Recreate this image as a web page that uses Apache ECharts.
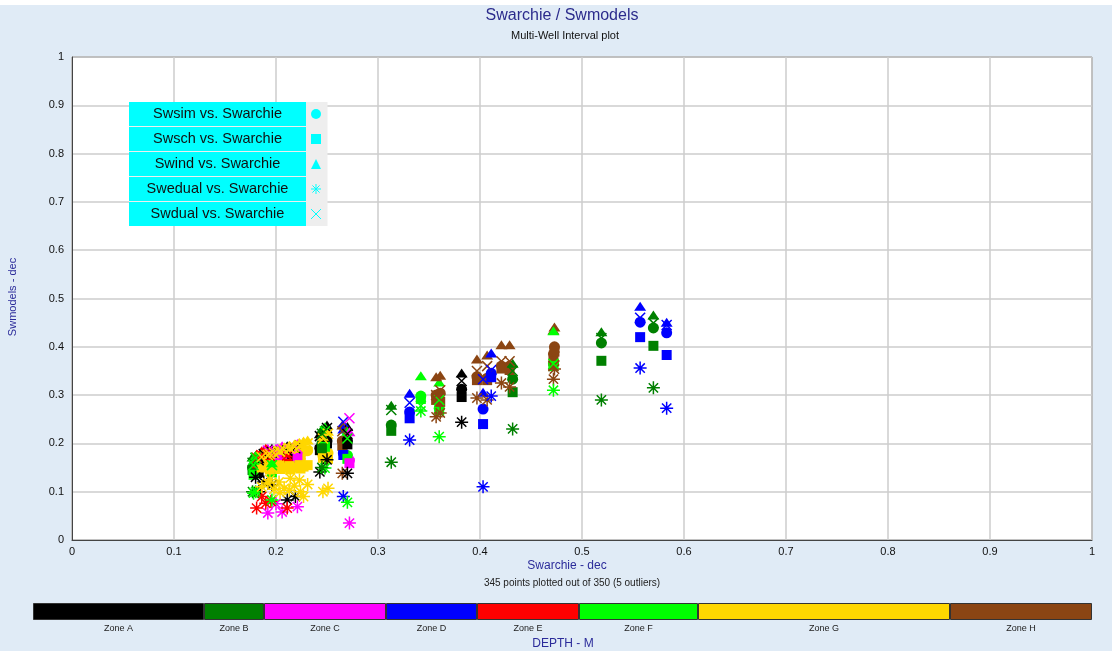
<!DOCTYPE html>
<html>
<head>
<meta charset="utf-8" />
<title>Swarchie / Swmodels</title>
<script src="https://cdn.jsdelivr.net/npm/echarts@6/dist/echarts.min.js"></script>
<style>
  html, body { margin: 0; padding: 0; background: #e0ebf6; }
  #chart { width: 1112px; height: 651px; }
</style>
</head>
<body>
<div id="chart"></div>
<script>
// zones (depth intervals) and their colours
var zoneNames = ['Zone A', 'Zone B', 'Zone C', 'Zone D', 'Zone E', 'Zone F', 'Zone G', 'Zone H'];
var zoneColors = ['#000000', '#008000', '#ff00ff', '#0000ff', '#ff0000', '#00ff00', '#ffd700', '#8b4513'];
var zoneSpan = [171, 60, 122, 91, 102, 119, 252, 142];

// one entry per depth sample: Swarchie (x), zone index, and the five model values
var swarchie = [
  0.313, 0.331, 0.342, 0.360, 0.357, 0.361, 0.382, 0.397, 0.403, 0.407, 0.411,
  0.421, 0.429, 0.432, 0.473, 0.472, 0.472, 0.519, 0.557, 0.570, 0.583,
  0.265, 0.270, 0.266, 0.270, 0.272,
  0.243, 0.250, 0.248, 0.246, 0.251, 0.245,
  0.180, 0.183, 0.188, 0.196, 0.211, 0.219, 0.177,
  0.192, 0.206, 0.221, 0.200,
  0.181, 0.186, 0.190, 0.211, 0.195,
  0.178, 0.180, 0.196,
  0.186, 0.192, 0.198, 0.203, 0.208, 0.213, 0.218, 0.223, 0.227, 0.231,
  0.194, 0.204, 0.214, 0.224
];
var zone = [
  1, 3, 5, 5, 7, 7, 0, 7, 3, 7, 3,
  7, 7, 1, 7, 7, 5, 1, 3, 1, 3,
  7, 0, 3, 5, 2,
  0, 0, 5, 6, 6, 1,
  0, 0, 0, 0, 0, 0, 1,
  2, 2, 2, 2,
  4, 4, 4, 4, 4,
  5, 5, 5,
  6, 6, 6, 6, 6, 6, 6, 6, 6, 6,
  6, 6, 6, 6
];
var swsim = [
  0.238, 0.265, 0.298, 0.273, 0.300, 0.304, 0.312, 0.338, 0.271, 0.335, 0.345,
  0.360, 0.360, 0.333, 0.400, 0.385, 0.365, 0.408, 0.451, 0.439, 0.429,
  0.205, 0.205, 0.180, 0.175, 0.165,
  0.190, 0.205, 0.198, 0.175, 0.180, 0.200,
  0.152, 0.145, 0.162, 0.168, 0.170, 0.172, 0.150,
  0.170, 0.172, 0.175, 0.165,
  0.162, 0.168, 0.172, 0.160, 0.155,
  0.140, 0.168, 0.145,
  0.165, 0.170, 0.172, 0.175, 0.176, 0.178, 0.180, 0.182, 0.183, 0.185,
  0.160, 0.163, 0.165, 0.168
];
var swsch = [
  0.226, 0.252, 0.292, 0.268, 0.290, 0.286, 0.296, 0.331, 0.240, 0.331, 0.337,
  0.355, 0.352, 0.306, 0.390, 0.370, 0.360, 0.371, 0.420, 0.402, 0.383,
  0.195, 0.198, 0.176, 0.168, 0.159,
  0.186, 0.200, 0.193, 0.170, 0.168, 0.190,
  0.148, 0.140, 0.158, 0.165, 0.165, 0.168, 0.145,
  0.165, 0.168, 0.170, 0.160,
  0.159, 0.165, 0.170, 0.158, 0.150,
  0.135, 0.165, 0.140,
  0.150, 0.155, 0.152, 0.155, 0.150, 0.153, 0.150, 0.155, 0.152, 0.155,
  0.146, 0.147, 0.146, 0.148
];
var swind = [
  0.279, 0.304, 0.340, 0.327, 0.338, 0.341, 0.346, 0.375, 0.306, 0.383, 0.387,
  0.404, 0.404, 0.366, 0.441, 0.435, 0.433, 0.431, 0.484, 0.466, 0.451,
  0.238, 0.235, 0.230, 0.225, 0.224,
  0.220, 0.238, 0.234, 0.215, 0.225, 0.230,
  0.175, 0.168, 0.185, 0.190, 0.195, 0.198, 0.172,
  0.190, 0.195, 0.200, 0.190,
  0.178, 0.185, 0.190, 0.180, 0.182,
  0.165, 0.175, 0.160,
  0.178, 0.182, 0.186, 0.190, 0.193, 0.196, 0.199, 0.202, 0.205, 0.207,
  0.180, 0.186, 0.192, 0.198
];
var swedual = [
  0.161, 0.207, 0.267, 0.214, 0.255, 0.263, 0.244, 0.294, 0.110, 0.290, 0.298,
  0.325, 0.317, 0.230, 0.354, 0.333, 0.310, 0.290, 0.356, 0.315, 0.273,
  0.138, 0.138, 0.090, 0.078, 0.035,
  0.141, 0.166, 0.149, 0.100, 0.107, 0.150,
  0.130, 0.100, 0.120, 0.114, 0.083, 0.090, 0.100,
  0.056, 0.058, 0.069, 0.075,
  0.066, 0.090, 0.076, 0.066, 0.080,
  0.097, 0.100, 0.083,
  0.110, 0.118, 0.105, 0.120, 0.107, 0.103, 0.112, 0.124, 0.090, 0.115,
  0.125, 0.098, 0.128, 0.100
];
var swdual = [
  0.269, 0.284, 0.278, 0.290, 0.300, 0.310, 0.329, 0.350, 0.333, 0.360, 0.352,
  0.370, 0.370, 0.350, 0.380, 0.360, 0.365, 0.418, 0.460, 0.449, 0.445,
  0.225, 0.220, 0.245, 0.210, 0.252,
  0.215, 0.232, 0.225, 0.210, 0.220, 0.220,
  0.170, 0.165, 0.178, 0.182, 0.185, 0.190, 0.160,
  0.185, 0.188, 0.190, 0.180,
  0.170, 0.175, 0.180, 0.175, 0.172,
  0.155, 0.170, 0.155,
  0.172, 0.176, 0.180, 0.184, 0.187, 0.190, 0.193, 0.196, 0.199, 0.200,
  0.178, 0.183, 0.189, 0.195
];

var asterisk = 'path://M0,-6L0,6M-6,0L6,0M-4.3,-4.3L4.3,4.3M-4.3,4.3L4.3,-4.3';
var cross = 'path://M-5,-5L5,5M-5,5L5,-5';
var legendCyan = '#00ffff';
var font = 'Liberation Sans';

function points(vals, stroke) {
  return swarchie.map(function (x, i) {
    var c = zoneColors[zone[i]];
    return {
      value: [x, vals[i]],
      itemStyle: { color: c, borderColor: c, borderWidth: stroke ? 1.5 : 0, opacity: 1 }
    };
  });
}

var modelSeries = [
  { name: 'Swsim vs. Swarchie', vals: swsim, symbol: 'circle', size: 11, stroke: false },
  { name: 'Swsch vs. Swarchie', vals: swsch, symbol: 'rect', size: 10, stroke: false },
  { name: 'Swind vs. Swarchie', vals: swind, symbol: 'triangle', size: [12, 9], stroke: false },
  { name: 'Swedual vs. Swarchie', vals: swedual, symbol: asterisk, size: 13, stroke: true },
  { name: 'Swdual vs. Swarchie', vals: swdual, symbol: cross, size: 10, stroke: true }
];

var series = modelSeries.map(function (m) {
  return {
    name: m.name,
    type: 'scatter',
    xAxisIndex: 0,
    yAxisIndex: 0,
    symbol: m.symbol,
    symbolSize: m.size,
    animation: false,
    itemStyle: { opacity: 1 },
    data: points(m.vals, m.stroke)
  };
});

// depth zone colour bar
zoneNames.forEach(function (z, i) {
  series.push({
    name: z,
    type: 'bar',
    xAxisIndex: 1,
    yAxisIndex: 1,
    stack: 'zones',
    barWidth: 17,
    animation: false,
    itemStyle: { color: zoneColors[i], borderColor: '#333', borderWidth: 1 },
    label: {
      show: true, position: 'bottom', distance: 4, formatter: z,
      fontSize: 9, color: '#222', fontFamily: font
    },
    data: [zoneSpan[i]]
  });
});

var chart = echarts.init(document.getElementById('chart'));
chart.setOption({
  backgroundColor: '#e0ebf6',
  graphic: [
    { type: 'rect', shape: { x: 0, y: 0, width: 1112, height: 5 }, style: { fill: '#ffffff' } },
    { type: 'text', x: 562, y: 8, style: { text: 'Swarchie / Swmodels', fill: '#2b2b8c', font: '16px ' + font, textAlign: 'center' } },
    { type: 'text', x: 565, y: 30, style: { text: 'Multi-Well Interval plot', fill: '#111', font: '11px ' + font, textAlign: 'center' } },
    { type: 'text', x: 567, y: 560, style: { text: 'Swarchie - dec', fill: '#2b2b9a', font: '12px ' + font, textAlign: 'center' } },
    { type: 'text', x: 572, y: 578, style: { text: '345 points plotted out of 350 (5 outliers)', fill: '#222', font: '10px ' + font, textAlign: 'center' } },
    { type: 'text', x: 563, y: 638, style: { text: 'DEPTH - M', fill: '#2b2b9a', font: '12px ' + font, textAlign: 'center' } },
    { type: 'text', x: 13, y: 297, rotation: Math.PI / 2, style: { text: 'Swmodels - dec', fill: '#2b2b9a', font: '11px ' + font, textAlign: 'center', textVerticalAlign: 'middle' } }
  ],
  legend: {
    data: modelSeries.map(function (m) {
      return {
        name: m.name,
        icon: m.symbol,
        itemStyle: { color: legendCyan, borderColor: legendCyan, borderWidth: m.stroke ? 1 : 0, opacity: 1 }
      };
    }),
    orient: 'vertical',
    left: 129,
    top: 102,
    align: 'right',
    itemGap: 1,
    itemWidth: 10,
    itemHeight: 10,
    padding: [0, 6, 0, 0],
    backgroundColor: '#eeeeee',
    selectedMode: false,
    formatter: '{b|{name}}',
    textStyle: {
      rich: {
        b: {
          width: 177, height: 24, lineHeight: 24, align: 'center',
          backgroundColor: legendCyan, color: '#111', fontSize: 14.5, fontFamily: font
        }
      }
    }
  },
  grid: [
    { left: 72, right: 20, top: 57, bottom: 111, show: true, backgroundColor: '#ffffff', borderColor: '#444', borderWidth: 1 },
    { left: 33, right: 20, top: 603, height: 17 }
  ],
  xAxis: [
    {
      gridIndex: 0, type: 'value', min: 0, max: 1, interval: 0.1,
      axisLine: { lineStyle: { color: '#444' } },
      axisTick: { show: false },
      axisLabel: { color: '#111', fontSize: 11, fontFamily: font, margin: 6 },
      splitLine: { lineStyle: { color: '#cccccc', width: 1.5 } }
    },
    { gridIndex: 1, type: 'value', min: 0, max: zoneSpan.reduce(function (a, b) { return a + b; }, 0), show: false }
  ],
  yAxis: [
    {
      gridIndex: 0, type: 'value', min: 0, max: 1, interval: 0.1,
      axisLine: { show: true, lineStyle: { color: '#444' } },
      axisTick: { show: false },
      axisLabel: { color: '#111', fontSize: 11, fontFamily: font, margin: 8 },
      splitLine: { lineStyle: { color: '#cccccc', width: 1.5 } }
    },
    { gridIndex: 1, type: 'category', data: ['depth'], show: false }
  ],
  series: series
});

window.onresize = function () {
  chart.resize();
};
</script>
</body>
</html>
